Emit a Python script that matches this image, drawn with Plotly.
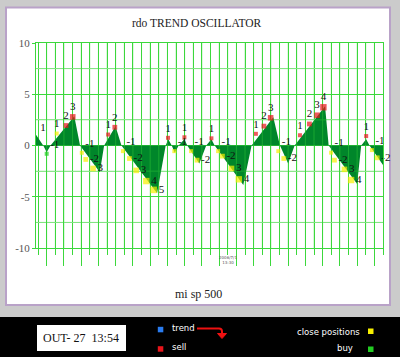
import plotly.graph_objects as go

# ---------------- data ----------------
# oscillator turning points (time index, value)
osc_t = [-1.24, -0.4, 0.0, 0.45, 3.2, 3.87, 6.16, 6.66, 7.98, 8.67, 12.8, 13.8,
         14.1, 14.5, 14.85, 15.3, 15.97, 16.3, 17.7, 18.5, 19.1, 19.48, 22.8, 23.76,
         26.28, 27.05, 28.0, 28.75, 32.28, 32.7, 36.0, 36.47, 37.05, 37.44, 39.0]
osc_v = [1.05, 0.0, -0.65, 0.0, 2.85, 0.0, -2.6, 0.0, 1.88, 0.0, -4.65, 0.0,
         0.6, 0.0, -0.7, 0.0, 0.6, 0.0, -1.75, 0.0, 0.6, 0.0, -3.85, 0.0,
         2.76, 0.0, -1.75, 0.0, 3.82, 0.0, -3.75, 0.0, 0.6, 0.0, -1.9]

# sell signals (red)
sell_t = [2.24, 3.02, 7.13, 7.9, 14.07, 15.97, 19.1, 24.26, 25.19, 25.97,
          29.37, 30.47, 31.35, 32.09, 37.05]
sell_v = [1.95, 2.79, 1.07, 1.78, 0.75, 0.8, 0.7, 1.14, 1.89, 2.7,
          1.0, 2.1, 2.95, 3.73, 0.92]
sell_lbl = ['2', '3', '1', '2', '1', '1', '1', '1', '2', '3', '1', '2', '3', '4', '1']

# close positions (yellow)
close_t = [1.16, 4.07, 4.53, 5.38, 8.84, 9.6, 10.38, 11.55, 12.4, 14.8, 16.74, 17.44,
           19.88, 20.38, 21.43, 22.28, 26.86, 27.5, 32.98, 33.37, 34.53, 35.3, 37.71, 38.33]
close_v = [1.17, -0.71, -1.36, -2.24, -0.55, -1.27, -2.43, -3.47, -4.33, -0.55, -0.55, -1.43,
           -0.55, -1.04, -2.24, -3.3, -0.55, -1.27, -0.7, -1.43, -2.33, -3.37, -0.45, -1.2]
close_lbl = ['1', '-1', '-2', '3', '-1', '-2', '3', '4', '5', '-1', '-1', '-2',
             '-1', '-2', '3', '4', '-1', '-2', '-1', '-2', '3', '4', '-1', '-2']

# buy signals (green)
buy_t = [0.0]
buy_v = [-0.81]
buy_lbl = ['-1']

# label without marker
note_t = [-0.43]
note_v = [1.15]
note_lbl = ['1']

y_ticks = [-10, -5, 0, 5, 10]
y_ticktext = ['-10', '-5', '0', '5', '10']

title_text = 'rdo TREND OSCILLATOR'
subtitle_text = 'mi sp 500'
stamp_text = '2006/7/1<br>13:30'
clock_text = 'OUT- 27  13:54'

# ---------------- styling helpers ----------------
W, H = 400, 357
ML, MR, MT, MB = 36, 17, 43, 109
PW, PH = W - ML - MR, H - MT - MB


def X(px):
    return (px - ML) / PW


def Y(py):
    return (H - MB - py) / PH


GRID = '#3cd83c'
GRID_MINOR = '#a9eca9'
FILL = '#00862a'
SERIF = 'Liberation Serif'


def msize(lbl):
    n = abs(int(lbl))
    return min(4.0 + 0.8 * (n - 1), 6.6)


def tpos(val, lbl):
    if val >= 0:
        return 'top center'
    return 'top right' if lbl in ('-1',) else 'middle right'


fig = go.Figure()

# filled oscillator
fig.add_trace(go.Scatter(x=osc_t, y=osc_v, mode='lines', line=dict(width=0, color=FILL),
                         fill='tozeroy', fillcolor=FILL, hoverinfo='skip', showlegend=False))

# grid seen through the fill
gx, gy = [], []
for k in range(0, 39):
    gx += [k, k, None]
    gy += [-10, 10, None]
for yy in (-7.5, -2.5, 2.5, 7.5):
    gx += [-1.24, 39, None]
    gy += [yy, yy, None]
fig.add_trace(go.Scatter(x=gx, y=gy, mode='lines', line=dict(width=1, color=GRID),
                         opacity=0.4, hoverinfo='skip', showlegend=False))


def marker_trace(tt, vv, lbls, color):
    return go.Scatter(
        x=tt, y=vv, mode='markers+text', text=lbls,
        textposition=[tpos(v, l) for v, l in zip(vv, lbls)],
        textfont=dict(family=SERIF, size=11, color='#111111'),
        marker=dict(symbol='square', color=color, size=[msize(l) for l in lbls], line=dict(width=0)),
        hoverinfo='skip', showlegend=False, cliponaxis=False)


fig.add_trace(marker_trace(sell_t, sell_v, sell_lbl, '#e8141a'))
fig.add_trace(marker_trace(close_t, close_v, close_lbl, '#f7ef00'))
fig.add_trace(marker_trace(buy_t, buy_v, buy_lbl, '#22cc22'))
fig.add_trace(go.Scatter(x=note_t, y=note_v, mode='text', text=note_lbl, textposition='top center',
                         textfont=dict(family=SERIF, size=11, color='#111111'),
                         hoverinfo='skip', showlegend=False, cliponaxis=False))

shapes = [
    # outer white panel with lilac frame
    dict(type='rect', xref='paper', yref='paper', x0=X(6), x1=X(390), y0=Y(305), y1=Y(7.5),
         fillcolor='white', line=dict(color='#b9a2c8', width=2), layer='below'),
    # black strip
    dict(type='rect', xref='paper', yref='paper', x0=X(-2), x1=X(402), y0=Y(360), y1=Y(317),
         fillcolor='black', line=dict(width=0), layer='below'),
    # clock box
    dict(type='rect', xref='paper', yref='paper', x0=X(37), x1=X(126), y0=Y(351), y1=Y(325),
         fillcolor='white', line=dict(width=0)),
    # legend squares
    dict(type='rect', xref='paper', yref='paper', x0=X(157.8), x1=X(163.3), y0=Y(332.3), y1=Y(326.8),
         fillcolor='#2a7cf0', line=dict(width=0)),
    dict(type='rect', xref='paper', yref='paper', x0=X(157.8), x1=X(163.3), y0=Y(351.7), y1=Y(346.2),
         fillcolor='#e8141a', line=dict(width=0)),
    dict(type='rect', xref='paper', yref='paper', x0=X(368), x1=X(373.5), y0=Y(334), y1=Y(328.5),
         fillcolor='#f7ef00', line=dict(width=0)),
    dict(type='rect', xref='paper', yref='paper', x0=X(368), x1=X(373.5), y0=Y(352), y1=Y(346.5),
         fillcolor='#22cc22', line=dict(width=0)),
    # red arrow
    dict(type='path', xref='paper', yref='paper',
         path=f'M {X(197)} {Y(328.5)} L {X(219)} {Y(328.5)} Q {X(222)} {Y(328.5)} {X(222)} {Y(331.5)} L {X(222)} {Y(334)}',
         line=dict(color='#ee1111', width=2)),
    dict(type='path', xref='paper', yref='paper',
         path=f'M {X(217.5)} {Y(333.5)} L {X(226.5)} {Y(333.5)} L {X(222)} {Y(338.5)} Z',
         fillcolor='#ee1111', line=dict(color='#ee1111', width=1)),
]

white_font = dict(family='DejaVu Sans', size=8.5, color='white')
annotations = [
    dict(text=title_text, x=X(197), y=Y(23), xref='paper', yref='paper', showarrow=False,
         xanchor='center', yanchor='middle', font=dict(family=SERIF, size=11.5, color='#222222')),
    dict(text=subtitle_text, x=X(198), y=Y(294), xref='paper', yref='paper', showarrow=False,
         xanchor='center', yanchor='middle', font=dict(family=SERIF, size=12, color='#222222')),
    dict(text=stamp_text, x=X(228), y=Y(259.5), xref='paper', yref='paper', showarrow=False,
         xanchor='center', yanchor='middle', font=dict(family='DejaVu Sans', size=4, color='#555555')),
    dict(text=clock_text, x=X(41), y=Y(338), xref='paper', yref='paper', showarrow=False,
         xanchor='left', yanchor='middle', font=dict(family=SERIF, size=12, color='#111111')),
    dict(text='trend', x=X(170), y=Y(328), xref='paper', yref='paper', showarrow=False,
         xanchor='left', yanchor='middle', font=white_font),
    dict(text='sell', x=X(170), y=Y(347), xref='paper', yref='paper', showarrow=False,
         xanchor='left', yanchor='middle', font=white_font),
    dict(text='close positions', x=X(362), y=Y(332), xref='paper', yref='paper', showarrow=False,
         xanchor='right', yanchor='middle', font=white_font),
    dict(text='buy', x=X(355), y=Y(348), xref='paper', yref='paper', showarrow=False,
         xanchor='right', yanchor='middle', font=white_font),
]

fig.update_layout(
    width=W, height=H,
    margin=dict(l=ML, r=MR, t=MT, b=MB, pad=0),
    paper_bgcolor='#cbcbcb', plot_bgcolor='rgba(0,0,0,0)',
    showlegend=False, shapes=shapes, annotations=annotations,
    xaxis=dict(range=[-1.24, 39], showticklabels=False, zeroline=False,
               tick0=0, dtick=2, ticks='outside', ticklen=17, tickcolor=GRID, tickwidth=1,
               showgrid=True, gridcolor=GRID, gridwidth=1,
               minor=dict(dtick=1, tick0=0, ticks='outside', ticklen=6, tickcolor=GRID,
                          showgrid=True, gridcolor=GRID),
               showline=True, linecolor=GRID, linewidth=1, mirror=True, fixedrange=True),
    yaxis=dict(range=[-10, 10], tickvals=y_ticks, ticktext=y_ticktext,
               ticks='outside', ticklen=3, tickcolor=GRID,
               tickfont=dict(family=SERIF, size=11, color='#555555'),
               showgrid=True, gridcolor=GRID, gridwidth=1, zeroline=False,
               minor=dict(tickvals=[-7.5, -2.5, 2.5, 7.5], showgrid=True, gridcolor=GRID_MINOR, ticks=''),
               showline=True, linecolor=GRID, linewidth=1, mirror=True, fixedrange=True),
)

fig.write_html('out.html', config={'displayModeBar': False},
               post_script="document.body.style.margin='0';document.body.style.padding='0';")
